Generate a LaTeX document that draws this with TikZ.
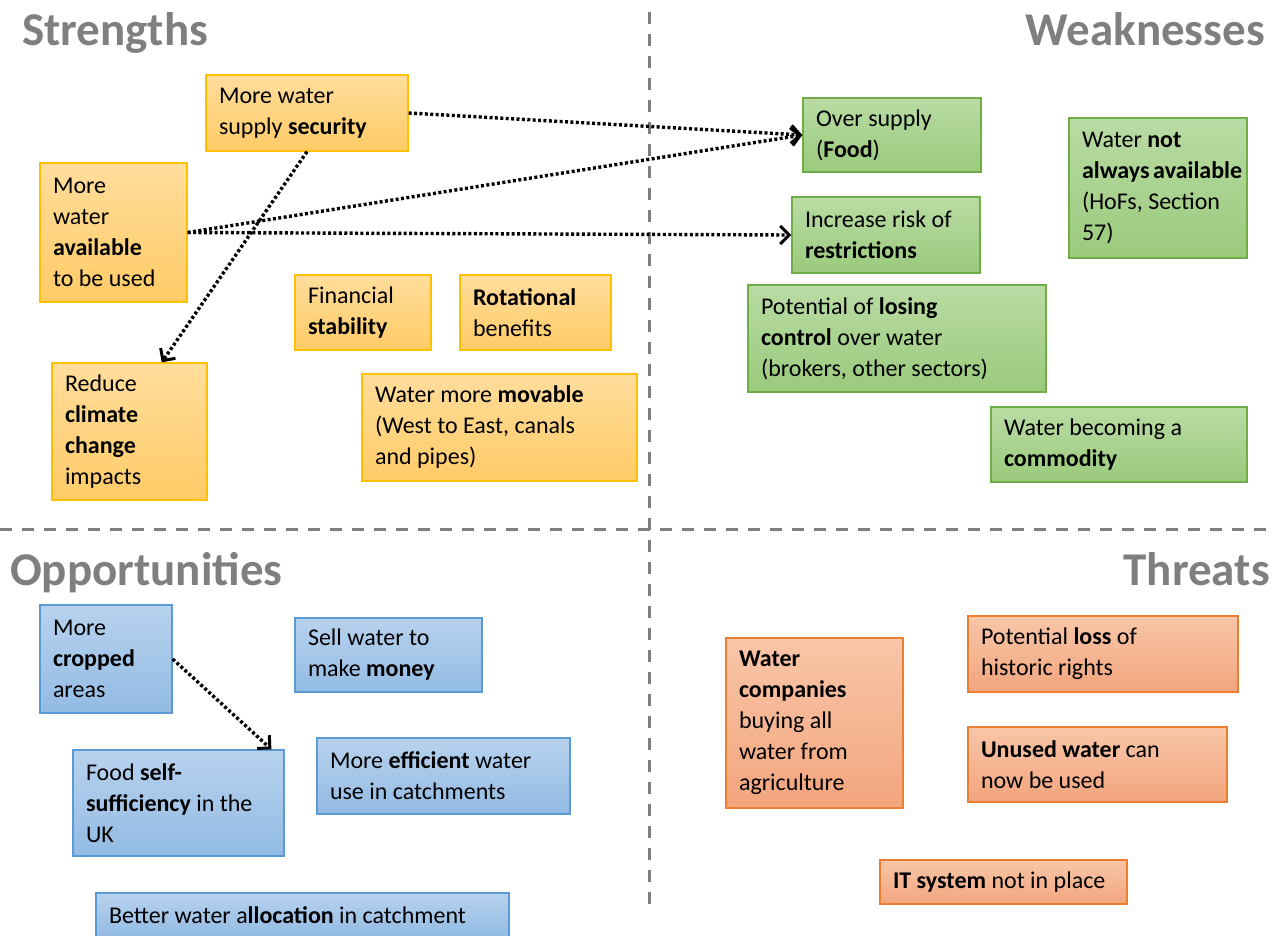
\documentclass[tikz,border=0pt]{standalone}
\usepackage{fontspec}
\setmainfont{Carlito}
\usepackage{xcolor}
\usepackage{tikz}
\usetikzlibrary{arrows.meta}
\hyphenpenalty=10000
\exhyphenpenalty=10000
\definecolor{title}{HTML}{7F7F7F}
\definecolor{orline}{HTML}{FFC000}
\definecolor{ortop}{HTML}{FFDD9C}
\definecolor{orbot}{HTML}{FFCB66}
\definecolor{grline}{HTML}{70AD47}
\definecolor{grtop}{HTML}{B9DBA4}
\definecolor{grbot}{HTML}{9ACA7C}
\definecolor{blline}{HTML}{5B9BD5}
\definecolor{bltop}{HTML}{B7D2EE}
\definecolor{blbot}{HTML}{93BBE3}
\definecolor{rdline}{HTML}{ED7D31}
\definecolor{rdtop}{HTML}{F8C6A8}
\definecolor{rdbot}{HTML}{F2A57D}
\tikzset{
  box/.style={rectangle, line width=1.3pt, inner xsep=13pt, inner ysep=0pt,
    align=flush left, text=black, font=\fontsize{24}{31}\selectfont},
  bx/.style n args={3}{minimum width=#1pt, minimum height=#2pt, text width=#3pt},
  strength/.style={box, draw=orline, top color=ortop, bottom color=orbot},
  weakness/.style={box, draw=grline, top color=grtop, bottom color=grbot},
  chance/.style={box, draw=blline, top color=bltop, bottom color=blbot},
  threat/.style={box, draw=rdline, top color=rdtop, bottom color=rdbot},
  head/.style={text=title, font=\fontsize{47}{52}\selectfont\bfseries, inner sep=0pt},
  split/.style={draw=title, line width=3pt, dash pattern=on 12pt off 10pt},
  link/.style={draw=black, line width=3.4pt, dash pattern=on 3pt off 2.4pt,
    -{Straight Barb[length=9pt,width=18pt,line width=3pt]}},
}

\begin{document}
\begin{tikzpicture}[x=1pt,y=-1pt]
  \useasboundingbox (0,0) rectangle (1276,935);
  % quadrant lines
  \draw[split] (649,12) -- (649,905);
  \draw[split] (0,529) -- (1276,529);
  % titles
  \node[head, anchor=base west] (hS) at (22,45) {Strengths};
  \node[head, anchor=base east] (hW) at (1265,45) {Weaknesses};
  \node[head, anchor=base west] (hO) at (10,585) {Opportunities};
  \node[head, anchor=base east] (hT) at (1270,585) {Threats};
  % strengths
  \node[strength, bx={202}{76}{176}] (S1) at (307,113) {More water\\supply \textbf{security}};
  \node[strength, bx={147}{139}{121}] (S2) at (113.5,232.5) {More\\water\\\textbf{available}\\to~be~used};
  \node[strength, bx={155}{137}{129}] (S3) at (129.5,431.5) {Reduce\\\textbf{climate}\\\textbf{change}\\impacts};
  \node[strength, bx={136}{75}{110}] (S4) at (363,312.5) {Financial\\\textbf{stability}};
  \node[strength, bx={151}{75}{125}] (S5) at (535.5,312.5) {\textbf{Rotational}\\benefits};
  \node[strength, bx={275}{107}{249}] (S6) at (499.5,427.5) {Water more \textbf{movable}\\(West to East, canals\\and pipes)};
  % weaknesses
  \node[weakness, bx={178}{74}{152}] (W1) at (892,135) {Over supply\\(\textbf{Food})};
  \node[weakness, bx={188}{76}{162}] (W2) at (886,235) {Increase~risk~of\\\textbf{restrictions}};
  \node[weakness, bx={178}{140}{152}] (W3) at (1158,188) {Water \textbf{not}\\\textbf{always~available}\\(HoFs,~Section\\57)};
  \node[weakness, bx={298}{107}{272}] (W4) at (897,338.5) {Potential of \textbf{losing}\\\textbf{control} over water\\(brokers,~other~sectors)};
  \node[weakness, bx={256}{75}{230}] (W5) at (1119,444.5) {Water becoming a\\\textbf{commodity}};
  % opportunities
  \node[chance, bx={132}{108}{106}] (O1) at (106,659) {More\\\textbf{cropped}\\areas};
  \node[chance, bx={187}{74}{161}] (O2) at (388.5,655) {Sell water to\\make \textbf{money}};
  \node[chance, bx={211}{106}{185}] (O3) at (178.5,803) {Food \textbf{self-}\\\textbf{sufficiency}~in~the\\UK};
  \node[chance, bx={253}{76}{227}] (O4) at (443.5,776) {More~\textbf{efficient}~water\\use in catchments};
  \node[chance, bx={413}{44}{387}] (O5) at (302.5,915) {Better~water~a\textbf{llocation}~in~catchment};
  % threats
  \node[threat, bx={177}{170}{151}] (T1) at (814.5,723) {\textbf{Water}\\\textbf{companies}\\buying all\\water~from\\agriculture};
  \node[threat, bx={270}{76}{244}] (T2) at (1103,654) {Potential \textbf{loss} of\\historic rights};
  \node[threat, bx={259}{75}{233}] (T3) at (1097.5,764.5) {\textbf{Unused~water}~can\\now be used};
  \node[threat, bx={247}{44}{221}] (T4) at (1003.5,882) {\textbf{IT~system}~not~in~place};
  % links
  \draw[link] (S1.east) -- (W1.west);
  \draw[link] (S2.east) -- (W1.west);
  \draw[link] (S2.east) -- (W2.west);
  \draw[link] (S1.south) -- (S3.65);
  \draw[link] (O1.east) -- (O3.30);
\end{tikzpicture}
\end{document}
